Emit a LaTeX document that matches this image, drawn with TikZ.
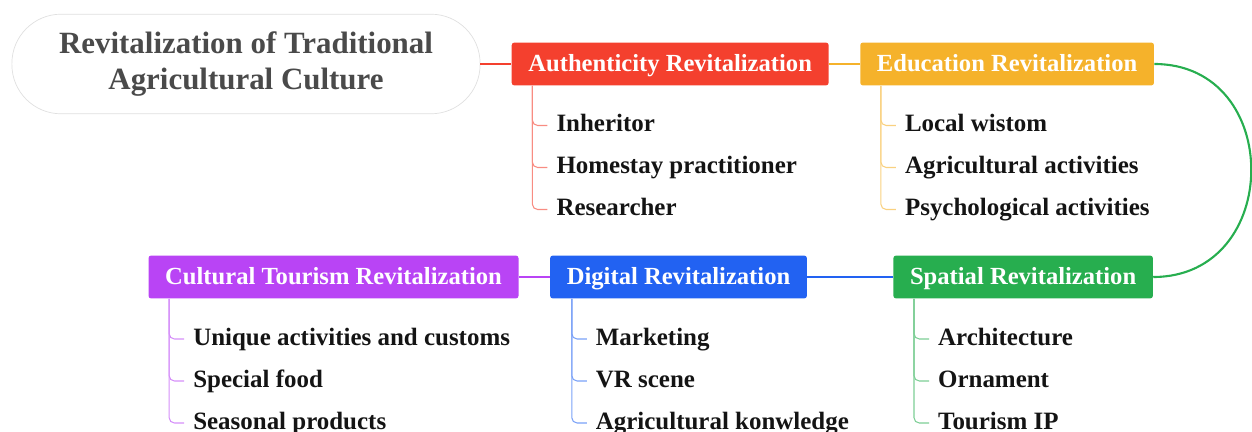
\documentclass[tikz,border=0pt]{standalone}
\usepackage{fontspec}
\setmainfont{Liberation Serif}
\usetikzlibrary{positioning}
\definecolor{authred}{HTML}{F4402E}
\definecolor{eduorange}{HTML}{F5B22B}
\definecolor{spagreen}{HTML}{27AE4F}
\definecolor{digblue}{HTML}{2262F2}
\definecolor{cultpurple}{HTML}{B944F5}
\definecolor{titlegray}{HTML}{4A4A4A}

\begin{document}
\begin{tikzpicture}[x=0.02cm, y=0.02cm,
    root/.style={draw=black!12, fill=white, rounded corners=28pt,
      minimum width=266.5pt, minimum height=56.7pt, align=center,
      text=titlegray, font=\fontsize{17.6}{21}\selectfont\bfseries},
    cat/.style={fill=#1, text=white, rounded corners=1.5pt,
      minimum height=24.4pt, inner xsep=9.5pt, text height=10pt, text depth=1.8pt,
      font=\fontsize{14}{16}\selectfont\bfseries},
    leaf/.style={anchor=west, inner xsep=5pt, inner ysep=0pt,
      text height=10pt, text depth=3pt, text=black!92,
      font=\fontsize{14.2}{16}\selectfont\bfseries},
    link/.style={draw=#1, line width=1.2pt},
    twig/.style={draw=#1!60!white, line width=0.6pt, rounded corners=3pt}]
  \useasboundingbox (0,0) rectangle (1252,-432);

  \node[root] (root) at (246,-64) {Revitalization of Traditional\\Agricultural Culture};
  \node[cat=authred, right=17.6pt of root] (auth) {Authenticity Revitalization};
  \node[cat=eduorange, right=17.6pt of auth] (edu) {Education Revitalization};
  \node[cat=spagreen, anchor=west] (spa) at (893,-277) {Spatial Revitalization};
  \node[cat=digblue, left=48.8pt of spa] (dig) {Digital Revitalization};
  \node[cat=cultpurple, left=17.6pt of dig] (cult) {Cultural Tourism Revitalization};

  \draw[link=authred] (root.east) -- (auth.west);
  \draw[link=eduorange] (auth.east) -- (edu.west);
  \draw[link=spagreen] (edu.east) .. controls +(130,0) and +(130,0) .. (spa.east);
  \draw[link=digblue] (spa.west) -- (dig.east);
  \draw[link=cultpurple] (dig.west) -- (cult.east);

  % authenticity
  \node[leaf] (a1) at ([shift={(36,-61.5)}]auth.west) {Inheritor};
  \node[leaf] (a2) at ([shift={(0,-42)}]a1.west) {Homestay practitioner};
  \node[leaf] (a3) at ([shift={(0,-42)}]a2.west) {Researcher};
  \draw[twig=authred] ([shift={(21,0)}]auth.south west) |- (a1);
  \draw[twig=authred] ([shift={(21,0)}]auth.south west) |- (a2);
  \draw[twig=authred] ([shift={(21,0)}]auth.south west) |- (a3);

  % education
  \node[leaf] (e1) at ([shift={(36,-61.5)}]edu.west) {Local wistom};
  \node[leaf] (e2) at ([shift={(0,-42)}]e1.west) {Agricultural activities};
  \node[leaf] (e3) at ([shift={(0,-42)}]e2.west) {Psychological activities};
  \draw[twig=eduorange] ([shift={(21,0)}]edu.south west) |- (e1);
  \draw[twig=eduorange] ([shift={(21,0)}]edu.south west) |- (e2);
  \draw[twig=eduorange] ([shift={(21,0)}]edu.south west) |- (e3);

  % spatial
  \node[leaf] (s1) at ([shift={(36,-62)}]spa.west) {Architecture};
  \node[leaf] (s2) at ([shift={(0,-42)}]s1.west) {Ornament};
  \node[leaf] (s3) at ([shift={(0,-42)}]s2.west) {Tourism IP};
  \draw[twig=spagreen] ([shift={(21,0)}]spa.south west) |- (s1);
  \draw[twig=spagreen] ([shift={(21,0)}]spa.south west) |- (s2);
  \draw[twig=spagreen] ([shift={(21,0)}]spa.south west) |- (s3);

  % digital
  \node[leaf] (d1) at ([shift={(37,-62)}]dig.west) {Marketing};
  \node[leaf] (d2) at ([shift={(0,-42)}]d1.west) {VR scene};
  \node[leaf] (d3) at ([shift={(0,-42)}]d2.west) {Agricultural konwledge};
  \draw[twig=digblue] ([shift={(22,0)}]dig.south west) |- (d1);
  \draw[twig=digblue] ([shift={(22,0)}]dig.south west) |- (d2);
  \draw[twig=digblue] ([shift={(22,0)}]dig.south west) |- (d3);

  % cultural tourism
  \node[leaf] (c1) at ([shift={(36,-62)}]cult.west) {Unique activities and customs};
  \node[leaf] (c2) at ([shift={(0,-42)}]c1.west) {Special food};
  \node[leaf] (c3) at ([shift={(0,-42)}]c2.west) {Seasonal products};
  \draw[twig=cultpurple] ([shift={(21,0)}]cult.south west) |- (c1);
  \draw[twig=cultpurple] ([shift={(21,0)}]cult.south west) |- (c2);
  \draw[twig=cultpurple] ([shift={(21,0)}]cult.south west) |- (c3);
\end{tikzpicture}
\end{document}
